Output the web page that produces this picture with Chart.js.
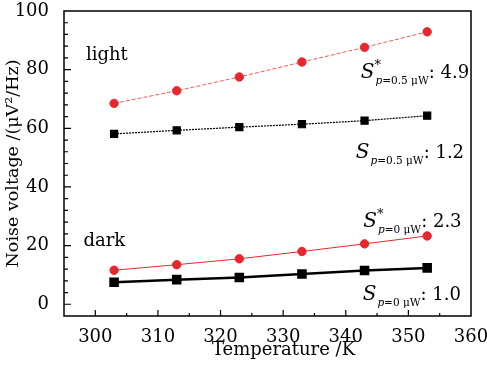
<!DOCTYPE html>
<html>
<head>
<meta charset="utf-8">
<script src="https://cdn.jsdelivr.net/npm/chart.js@4.4.1/dist/chart.umd.min.js"></script>
<style>
  body { margin: 0; background: #fff; }
  #wrap { width: 487px; height: 366px; position: relative; }
</style>
</head>
<body>
<div id="wrap"><canvas id="myChart"></canvas></div>
<script>
const temps = [303, 313, 323, 333, 343, 353]
const lightRed = [68.5, 72.8, 77.5, 82.6, 87.6, 92.9]
const lightBlack = [58.1, 59.3, 60.4, 61.4, 62.6, 64.3]
const darkRed = [11.6, 13.5, 15.5, 18.0, 20.6, 23.3]
const darkBlack = [7.5, 8.4, 9.1, 10.3, 11.5, 12.4]

const xTicks = [300, 310, 320, 330, 340, 350, 360]
const yTicks = [0, 20, 40, 60, 80, 100]

const xTitle = 'Temperature /K'
const yTitle = 'Noise voltage /(\u03bcV\u00b2/Hz)'

const FONT = "'DejaVu Serif', serif"
const RED = '#e8262d'

const pts = (ys) => temps.map((t, i) => ({ x: t, y: ys[i] }))

// text labels, anchored in data coordinates
const plainLabels = [
    { text: 'light', x: 298.5, y: 83.3 },
    { text: 'dark', x: 298.1, y: 20.0 },
]
const slopeLabels = [
    { star: true, sub: 'p=0.5 \u03bcW', value: ': 4.9', x: 342.4, y: 77.1 },
    { star: false, sub: 'p=0.5 \u03bcW', value: ': 1.2', x: 341.6, y: 49.8 },
    { star: true, sub: 'p=0 \u03bcW', value: ': 2.3', x: 342.8, y: 26.3 },
    { star: false, sub: 'p=0 \u03bcW', value: ': 1.0', x: 342.7, y: 1.4 },
]

const frameTicks = {
    id: 'frameTicks',
    afterDatasetsDraw(chart) {
        const { ctx, chartArea: a, scales } = chart
        const xs = scales.x, ys = scales.y
        ctx.save()
        ctx.strokeStyle = '#000'
        ctx.lineWidth = 1.5
        ctx.strokeRect(a.left, a.top, a.right - a.left, a.bottom - a.top)
        ctx.lineWidth = 1.2
        ctx.beginPath()
        for (let v = 300; v < 360; v += 5) {
            const px = xs.getPixelForValue(v)
            const len = v % 10 === 0 ? 6 : 3
            ctx.moveTo(px, a.bottom)
            ctx.lineTo(px, a.bottom - len)
        }
        for (let v = 0; v < 100; v += 4) {
            const py = ys.getPixelForValue(v)
            const len = v % 20 === 0 ? 7 : 4
            ctx.moveTo(a.left, py)
            ctx.lineTo(a.left + len, py)
        }
        ctx.stroke()

        ctx.fillStyle = '#000'
        // x axis title, sits a bit right of centre as in the original figure
        ctx.font = '18px ' + FONT
        ctx.textAlign = 'center'
        ctx.textBaseline = 'middle'
        ctx.fillText(xTitle, (a.left + a.right) / 2 + 16, 350)

        ctx.textAlign = 'left'
        ctx.textBaseline = 'alphabetic'
        plainLabels.forEach(l => {
            ctx.fillText(l.text, xs.getPixelForValue(l.x), ys.getPixelForValue(l.y))
        })
        slopeLabels.forEach(l => {
            let px = xs.getPixelForValue(l.x)
            const py = ys.getPixelForValue(l.y)
            ctx.font = 'italic 20px ' + FONT
            ctx.fillText('S', px, py)
            px += ctx.measureText('S').width + 1
            if (l.star) {
                ctx.font = '13px ' + FONT
                ctx.fillText('*', px - 1, py - 9)
            }
            ctx.font = 'italic 10.5px ' + FONT
            ctx.fillText('p', px, py + 6)
            let w = ctx.measureText('p').width
            ctx.font = '10.5px ' + FONT
            ctx.fillText(l.sub.slice(1), px + w, py + 6)
            w += ctx.measureText(l.sub.slice(1)).width
            ctx.font = '18px ' + FONT
            ctx.fillText(l.value, px + w, py)
        })
        ctx.restore()
    }
}

const chart = new Chart('myChart', {
    type: 'line',
    data: {
        datasets: [{
            data: pts(lightRed),
            borderColor: 'rgba(240,90,90,1)',
            borderWidth: 1,
            borderDash: [4, 2],
            pointStyle: 'circle',
            pointRadius: 4.2,
            pointBackgroundColor: RED,
            pointBorderColor: RED,
        }, {
            data: pts(lightBlack),
            borderColor: '#000',
            borderWidth: 1.2,
            borderDash: [2, 1],
            pointStyle: 'rect',
            pointRadius: 5,
            pointBackgroundColor: '#000',
            pointBorderColor: '#000',
        }, {
            data: pts(darkRed),
            borderColor: RED,
            borderWidth: 1,
            pointStyle: 'circle',
            pointRadius: 4.2,
            pointBackgroundColor: RED,
            pointBorderColor: RED,
        }, {
            data: pts(darkBlack),
            borderColor: '#000',
            borderWidth: 2.5,
            pointStyle: 'rect',
            pointRadius: 5,
            pointBackgroundColor: '#000',
            pointBorderColor: '#000',
        }]
    },
    options: {
        responsive: true,
        maintainAspectRatio: false,
        animation: false,
        layout: { padding: { top: 11, right: 16, left: 0, bottom: 0 } },
        plugins: { legend: { display: false }, tooltip: { enabled: false } },
        scales: {
            x: {
                type: 'linear',
                min: 295,
                max: 360,
                afterBuildTicks: (s) => { s.ticks = xTicks.map(v => ({ value: v })) },
                afterFit: (s) => { s.height = 50; s.paddingLeft = 0; s.paddingRight = 0 },
                grid: { display: false },
                border: { display: false },
                ticks: { color: '#000', font: { family: FONT, size: 18 }, padding: 3, maxRotation: 0 },
            },
            y: {
                type: 'linear',
                min: -4,
                max: 100,
                afterBuildTicks: (s) => { s.ticks = yTicks.map(v => ({ value: v })) },
                afterFit: (s) => { s.width = 64; s.paddingTop = 0; s.paddingBottom = 0 },
                grid: { display: false },
                border: { display: false },
                ticks: { color: '#000', font: { family: FONT, size: 18 }, padding: 7 },
                title: {
                    display: true,
                    text: yTitle,
                    color: '#000',
                    font: { family: FONT, size: 17.5 },
                    padding: { top: 3, bottom: 0 }
                }
            }
        }
    },
    plugins: [frameTicks]
})
</script>
</body>
</html>
